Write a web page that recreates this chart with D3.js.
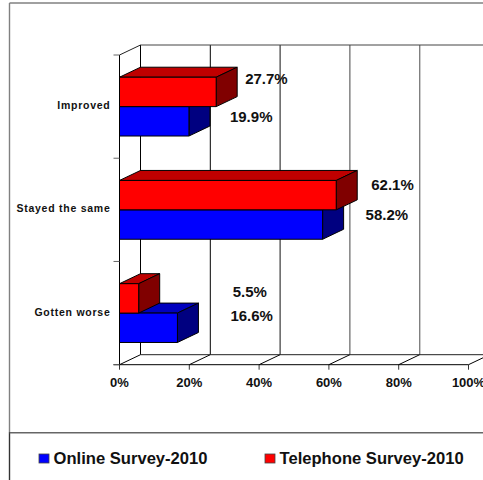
<!DOCTYPE html>
<html><head><meta charset="utf-8">
<script src="https://cdn.jsdelivr.net/npm/d3@7"></script>
<style>html,body{margin:0;padding:0;background:#fff;overflow:hidden}svg{display:block}text{font-family:"Liberation Sans",Arial,sans-serif;font-weight:bold;fill:#111}</style>
</head><body><div id="c"></div>
<script>
const categories = ["Improved", "Stayed the same", "Gotten worse"];
const online = [19.9, 58.2, 16.6];
const telephone = [27.7, 62.1, 5.5];
const xTicks = [0, 20, 40, 60, 80, 100];
const seriesNames = ["Online Survey-2010", "Telephone Survey-2010"];

const W = 483, H = 480;
const depth = {x: 21, y: -10};
const x = d3.scaleLinear().domain([0, 100]).range([119.5, 468.5]);
const y = d3.scaleBand().domain(categories).range([55, 364.7]);
const barH = 29.4;
const colors = [
  {front: "#0000ff", top: "#0000bf", side: "#000080"},
  {front: "#ff0000", top: "#bf0000", side: "#800000"}
];
// label nudges from the bar end (px), and baseline per series/category
const nudge = [[41, 43, 53], [29, 35, 94]];
const labelDy = [[15, 10.5, 7.5], [-22.5, -20, -16.5]];

const svg = d3.select("#c").append("svg").attr("width", W).attr("height", H);
const line = (x1, y1, x2, y2, c = "#000", w = 1) => svg.append("line")
  .attr("x1", x1).attr("y1", y1).attr("x2", x2).attr("y2", y2)
  .attr("stroke", c).attr("stroke-width", w);

// frame
line(9.5, 3, W, 3, "#808080", 1.4);
line(9.5, 3, 9.5, 432, "#808080", 1.4);
line(9.5, 432, 9.5, H, "#333", 1.4);
line(9.5, 432.7, W, 432.7, "#666", 1.4);

// walls
const yTop = y.range()[0], yBot = y.range()[1];
const gridCol = ["#000", "#000", "#111", "#444", "#808080", "#000"];
const gridW = [1, 1, 1, 1, 1.4, 1];
xTicks.forEach((t, i) => {
  if (t !== 100) line(x(t) + depth.x, yTop + depth.y, x(t) + depth.x, yBot + depth.y, gridCol[i], gridW[i]);
  line(x(t), yBot, x(t) + depth.x, yBot + depth.y);
  line(x(t), yBot, x(t), yBot + 5, "#333");
  svg.append("text").attr("x", x(t)).attr("y", yBot + 22.5)
    .attr("text-anchor", "middle").attr("font-size", 13).text(t + "%");
});
line(x(0) + depth.x, yTop + depth.y, W, yTop + depth.y, "#444");
line(x(0) + depth.x, yBot + depth.y, W, yBot + depth.y, "#222");
line(x(0), yTop, x(0) + depth.x, yTop + depth.y, "#222");
line(x(0) - 6, yBot, x(100), yBot);
line(x(0), yTop, x(0), yBot);
[...categories.map(c => y(c)), yBot].forEach(v => line(x(0) - 6, v, x(0), v, "#666"));

// bars
const centre = c => y(c) + y.bandwidth() / 2;
function bar(v, yt, col) {
  const x0 = x(0), x1 = x(v), yb = yt + barH, dx = depth.x, dy = depth.y;
  const poly = (pts, f) => svg.append("polygon").attr("points", pts.join(" "))
    .attr("fill", f).attr("stroke", "#000").attr("stroke-width", 1).attr("stroke-linejoin", "round");
  poly([[x0, yt], [x0 + dx, yt + dy], [x1 + dx, yt + dy], [x1, yt]], col.top);
  poly([[x1, yt], [x1 + dx, yt + dy], [x1 + dx, yb + dy], [x1, yb]], col.side);
  poly([[x0, yt], [x1, yt], [x1, yb], [x0, yb]], col.front);
}
categories.forEach((c, i) => {
  const m = centre(c);
  bar(online[i], m, colors[0]);
  bar(telephone[i], m - barH, colors[1]);
  svg.append("text").attr("x", x(0) - 9).attr("y", m + 2.5)
    .attr("text-anchor", "end").attr("font-size", 10.5).attr("letter-spacing", 0.75).text(c);
});
// data labels
[online, telephone].forEach((s, k) => s.forEach((v, i) => {
  svg.append("text").attr("x", x(v) + nudge[k][i]).attr("y", centre(categories[i]) + labelDy[k][i])
    .attr("font-size", 15).text(v.toFixed(1) + "%");
}));

// legend
const legendX = [39, 265];
seriesNames.forEach((n, i) => {
  svg.append("rect").attr("x", legendX[i]).attr("y", 454).attr("width", 10).attr("height", 9)
    .attr("fill", colors[i].front).attr("stroke", "#444").attr("stroke-width", 0.8);
  svg.append("text").attr("x", legendX[i] + 14.5).attr("y", 464).attr("font-size", 16.6).text(n);
});
</script></body></html>
